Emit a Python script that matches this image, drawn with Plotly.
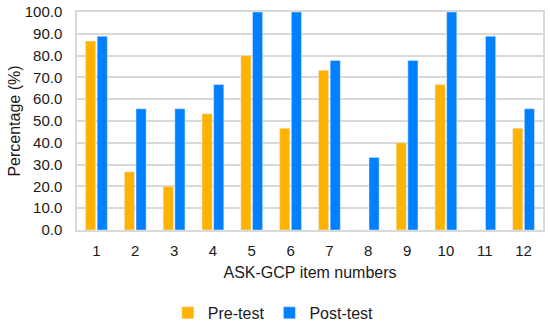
import plotly.graph_objects as go

items = ["1", "2", "3", "4", "5", "6", "7", "8", "9", "10", "11", "12"]
pre_test = [86.7, 26.7, 20.0, 53.3, 80.0, 46.7, 73.3, 0.0, 40.0, 66.7, 0.0, 46.7]
post_test = [88.9, 55.6, 55.6, 66.7, 100.0, 100.0, 77.8, 33.3, 77.8, 100.0, 88.9, 55.6]

font = "Liberation Sans, Arial, sans-serif"

fig = go.Figure()
fig.add_trace(go.Bar(x=items, y=pre_test, name="Pre-test", marker_color="#FFB300"))
fig.add_trace(go.Bar(x=items, y=post_test, name="Post-test", marker_color="#0080FF"))

fig.update_layout(
    width=550, height=328,
    margin=dict(l=77, r=7, t=12, b=98, autoexpand=False),
    plot_bgcolor="white", paper_bgcolor="white",
    font=dict(family=font, size=15, color="#1a1a1a"),
    barmode="group", bargap=0.4, bargroupgap=0.13,
    legend=dict(orientation="h", x=0.497, xanchor="center", xref="container",
                y=0.046, yanchor="middle", yref="container",
                font=dict(size=16), itemwidth=30, tracegroupgap=0),
    showlegend=True,
)
fig.update_xaxes(
    title=dict(text="ASK-GCP item numbers", standoff=9, font=dict(size=16)),
    showline=True, linecolor="#d9d9d9", linewidth=1.5, mirror=True,
    ticks="outside", ticklen=6, tickcolor="rgba(0,0,0,0)", tickfont=dict(size=15),
)
fig.update_yaxes(
    title=dict(text="Percentage (%)", standoff=0, font=dict(size=16)),
    range=[0, 100], dtick=10, tickformat=".1f",
    showgrid=True, gridcolor="#d9d9d9", gridwidth=1.5,
    showline=True, linecolor="#d9d9d9", linewidth=1.5, mirror=True,
    zeroline=False, ticks="outside", ticklen=10, tickcolor="rgba(0,0,0,0)",
    tickfont=dict(size=15),
)

fig.write_html("out.html", config={"displayModeBar": False},
               post_script="document.body.style.margin='0';")
